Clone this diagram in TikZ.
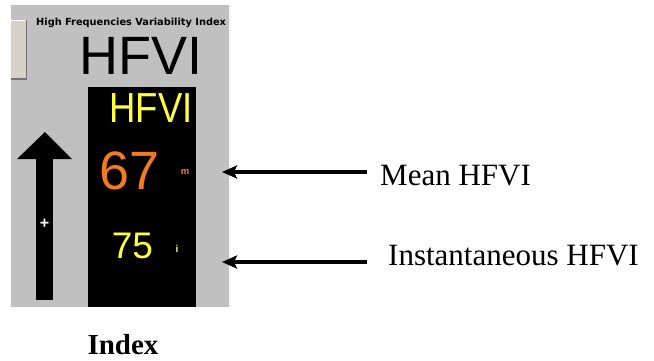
\documentclass[tikz,border=0pt]{standalone}
\usepackage{fontspec}
\setmainfont{Liberation Serif}
\setsansfont{Liberation Sans}
\newfontfamily\dvbold{DejaVu Sans}
\usetikzlibrary{arrows.meta}
\definecolor{panelgray}{HTML}{C0C0C0}
\definecolor{btnfill}{HTML}{D6D2CA}
\definecolor{hforange}{HTML}{F27A22}
\definecolor{hfyellow}{HTML}{FFFF3C}
\tikzset{
  ptr/.style={line width=3.5pt,-{Stealth[length=15pt,width=13pt,inset=3pt]}},
  lbl/.style={anchor=west,inner sep=0pt,font=\fontsize{31}{31}\selectfont},
  sans/.style={inner sep=0pt}
}
\begin{document}
\begin{tikzpicture}[x=1pt,y=-1pt]
\useasboundingbox (0,0) rectangle (654,360);
\fill[white] (0,0) rectangle (654,360);
% gray panel
\fill[panelgray] (11,5) rectangle (230,307);
\fill[white!85!panelgray] (229,5) rectangle (231,307);
% button
\fill[btnfill] (11,20) rectangle (27,79);
\draw[white,line width=1pt] (11,20.5) -- (26.5,20.5);
\draw[black!55,line width=1.2pt] (26.5,20) -- (26.5,79) -- (11,79);
% titles
\node[sans,anchor=west] (title) at (36,23) {\dvbold\bfseries\fontsize{9.8}{10}\selectfont High Frequencies Variability Index};
\node[sans] (big) at (141.5,56) {\sffamily\fontsize{54}{54}\selectfont HFVI};
% black panel
\fill[black] (88,87) rectangle (196,307);
\node[sans,xscale=0.87] (yh) at (151,108) {\sffamily\color{hfyellow}\fontsize{42}{42}\selectfont HFVI};
\node[sans] (mean) at (129.5,170.5) {\sffamily\color{hforange}\fontsize{54}{54}\selectfont 67};
\node[sans] (m) at (185,172) {\sffamily\bfseries\color{hforange}\fontsize{9.5}{9.5}\selectfont m};
\node[sans] (inst) at (132.5,245.5) {\sffamily\color{hfyellow}\fontsize{37}{37}\selectfont 75};
\node[sans] (i) at (177,249) {\sffamily\bfseries\color{hfyellow!80!white}\fontsize{10}{10}\selectfont i};
% big up arrow
\fill[black] (36,158) rectangle (53,300);
\fill[black] (17,159) -- (45,132) -- (72,159) -- cycle;
\node[sans] (plus) at (44.5,224) {\sffamily\bfseries\color{white}\fontsize{16}{16}\selectfont +};
% labels and pointers
\node[lbl] (lmean) at (380,176) {Mean HFVI};
\node[lbl] (linst) at (388,256) {Instantaneous HFVI};
\coordinate (pm) at (222,172);
\coordinate (pi) at (222,262);
\coordinate (sm) at (367,172);
\coordinate (si) at (367,262);
\draw[ptr] (sm) -- (pm);
\draw[ptr] (si) -- (pi);
\node[anchor=center,inner sep=0pt,font=\bfseries\fontsize{29}{29}\selectfont] (index) at (123,345) {Index};
\end{tikzpicture}
\end{document}
